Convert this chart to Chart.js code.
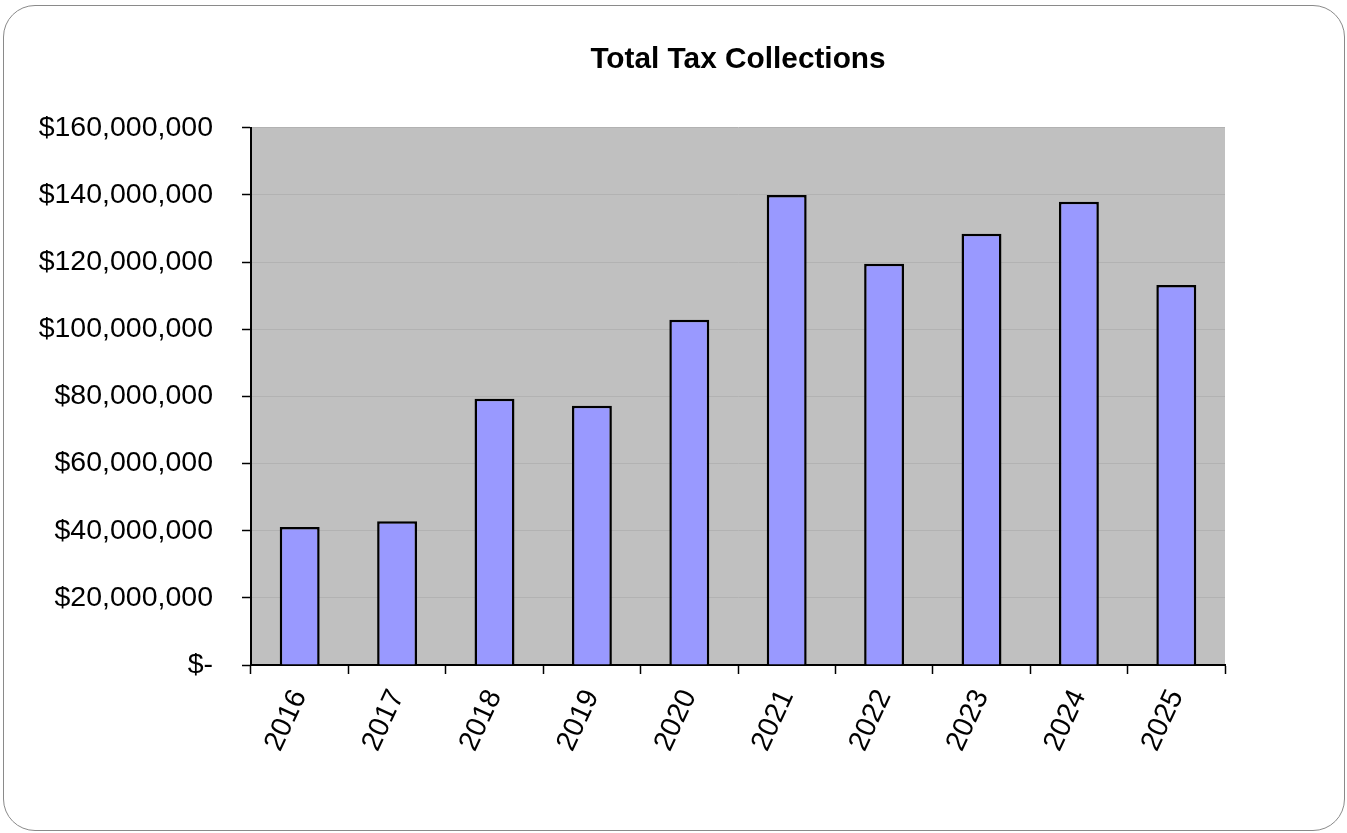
<!DOCTYPE html>
<html>
<head>
<meta charset="utf-8">
<script src="https://cdn.jsdelivr.net/npm/chart.js@4/dist/chart.umd.min.js"></script>
<style>
  html, body { margin: 0; padding: 0; background: #fff; }
  #wrap { position: relative; width: 1347px; height: 833px; }
  #frame {
    position: absolute; left: 3px; top: 5px; width: 1342px; height: 826px;
    border: 1.5px solid #8a8a8a; border-radius: 32px; box-sizing: border-box;
  }
  canvas { position: absolute; left: 0; top: 0; }
</style>
</head>
<body>
<div id="wrap">
  <div id="frame"></div>
  <canvas id="chart" width="1347" height="833"></canvas>
</div>
<script>
// values
const years = ["2016", "2017", "2018", "2019", "2020", "2021", "2022", "2023", "2024", "2025"];
const collections = [41100000, 42800000, 79300000, 77200000, 102800000, 140000000, 119500000, 128400000, 138000000, 113200000];
const yMax = 160000000;
const yStep = 20000000;

const FONT = '"Liberation Sans", Arial, sans-serif';
Chart.defaults.font.family = FONT;
Chart.defaults.color = "#000";

// gray plot background like the spreadsheet chart
const plotBg = {
  id: "plotBg",
  beforeDraw(chart) {
    const { ctx, chartArea: a } = chart;
    ctx.save();
    ctx.fillStyle = "#c0c0c0";
    ctx.fillRect(a.left, a.top, a.right - a.left, a.bottom - a.top);
    ctx.restore();
  },
};

function money(v) {
  if (v === 0) return "$-";
  return "$" + v.toLocaleString("en-US");
}

new Chart(document.getElementById("chart"), {
  type: "bar",
  data: {
    labels: years,
    datasets: [{
      data: collections,
      backgroundColor: "#9999ff",
      borderColor: "#000",
      borderWidth: 2.5,
      borderSkipped: "start",
      categoryPercentage: 1,
      barPercentage: 0.41,
    }],
  },
  options: {
    responsive: false,
    animation: false,
    layout: { padding: { left: 0, right: 122, top: 0, bottom: 0 } },
    plugins: {
      legend: { display: false },
      tooltip: { enabled: false },
      title: {
        display: true,
        text: "Total Tax Collections",
        fullSize: false,
        color: "#000",
        font: { size: 29.8, weight: "bold", family: FONT },
        padding: { top: 42, bottom: 50 },
      },
    },
    scales: {
      x: {
        offset: true,
        afterFit(scale) { scale.height = 168; },
        border: { display: true, color: "#000", width: 2 },
        grid: {
          offset: true,
          drawOnChartArea: false,
          drawTicks: true,
          tickLength: 9,
          tickColor: "#000",
          tickWidth: 1.5,
        },
        ticks: {
          autoSkip: false,
          minRotation: 65,
          maxRotation: 65,
          padding: 10.5,
          color: "#000",
          font: { size: 28.5, family: FONT },
        },
      },
      y: {
        min: 0,
        max: yMax,
        afterFit(scale) { scale.width = 251; },
        border: { display: true, color: "#000", width: 2 },
        grid: {
          color: "#b2b2b2",
          lineWidth: 1,
          drawTicks: true,
          tickLength: 9,
          tickColor: "#000",
          tickWidth: 1.5,
        },
        ticks: {
          stepSize: yStep,
          padding: 29,
          color: "#000",
          font: { size: 28.5, family: FONT },
          callback: money,
        },
      },
    },
  },
  plugins: [plotBg],
});
</script>
</body>
</html>
